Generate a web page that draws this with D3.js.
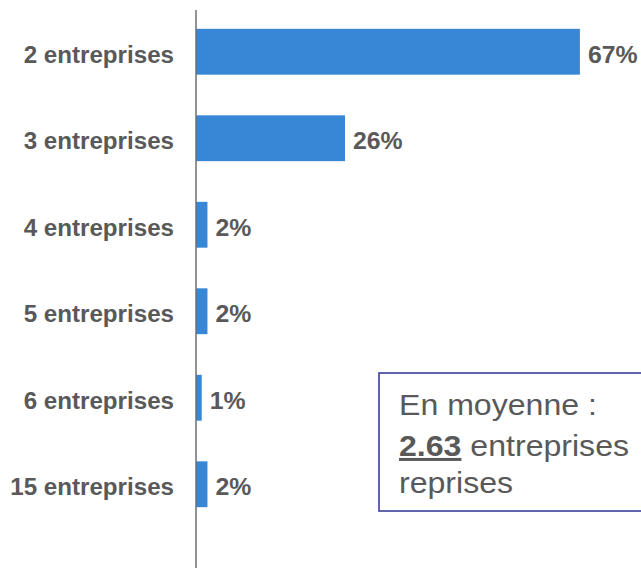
<!DOCTYPE html>
<meta charset="utf-8">
<script src="https://d3js.org/d3.v7.min.js"></script>
<style>
  body { margin: 0; background: #fff; }
  svg { display: block; font-family: "Liberation Sans", Arial, sans-serif; }
</style>
<div id="chart"></div>
<script>
  // data
  var categories = ["2 entreprises", "3 entreprises", "4 entreprises", "5 entreprises", "6 entreprises", "15 entreprises"];
  var values = [67, 26, 2, 2, 1, 2];
  var valueLabels = ["67%", "26%", "2%", "2%", "1%", "2%"];
  var noteLines = ["En moyenne :", "2.63", " entreprises", "reprises"];

  var width = 641, height = 568;
  var textColor = "#595959";

  var svg = d3.select("#chart")
    .append("svg")
    .attr("width", width)
    .attr("height", height);

  var x = d3.scaleLinear()
    .domain([0, 100])
    .range([196, 769]);

  var y = d3.scaleBand()
    .domain(categories)
    .range([8.5, 527.5])
    .paddingInner(0.47)
    .paddingOuter(0.235);

  // bars
  svg.append("g")
    .selectAll("rect")
    .data(values)
    .enter().append("rect")
    .attr("x", x(0))
    .attr("y", function(d, i) { return y(categories[i]); })
    .attr("width", function(d) { return x(d) - x(0); })
    .attr("height", y.bandwidth())
    .attr("fill", "#3886d6");

  // vertical axis line
  svg.append("line")
    .attr("x1", x(0)).attr("x2", x(0))
    .attr("y1", 10).attr("y2", height)
    .attr("stroke", "#6f6f6f")
    .attr("stroke-width", 1.5);

  // category labels
  svg.append("g")
    .selectAll("text")
    .data(categories)
    .enter().append("text")
    .attr("transform", function(d) {
      return "translate(" + (x(0) - 22) + "," + (y(d) + y.bandwidth() / 2 + 11) + ") scale(1.05,1)";
    })
    .attr("text-anchor", "end")
    .attr("font-size", 23)
    .attr("font-weight", "bold")
    .attr("fill", textColor)
    .text(function(d) { return d; });

  // value labels
  svg.append("g")
    .selectAll("text")
    .data(values)
    .enter().append("text")
    .attr("transform", function(d, i) {
      return "translate(" + (x(d) + 8) + "," + (y(categories[i]) + y.bandwidth() / 2 + 11) + ") scale(1.08,1)";
    })
    .attr("font-size", 23)
    .attr("font-weight", "bold")
    .attr("fill", textColor)
    .text(function(d, i) { return valueLabels[i]; });

  // note box
  svg.append("rect")
    .attr("x", 379)
    .attr("y", 373)
    .attr("width", 300)
    .attr("height", 138)
    .attr("fill", "#fff")
    .attr("stroke", "#2e3192")
    .attr("stroke-width", 1.5);

  var note = svg.append("g")
    .attr("transform", "translate(399,0)")
    .attr("font-size", 30)
    .attr("fill", textColor);

  note.append("text")
    .attr("transform", "translate(0,415) scale(1.07,1)")
    .text(noteLines[0]);

  var line2 = note.append("text")
    .attr("transform", "translate(0,456) scale(1.07,1)");
  line2.append("tspan")
    .attr("font-weight", "bold")
    .attr("text-decoration", "underline")
    .text(noteLines[1]);
  line2.append("tspan")
    .text(noteLines[2]);

  note.append("text")
    .attr("transform", "translate(0,493) scale(1.07,1)")
    .text(noteLines[3]);
</script>
